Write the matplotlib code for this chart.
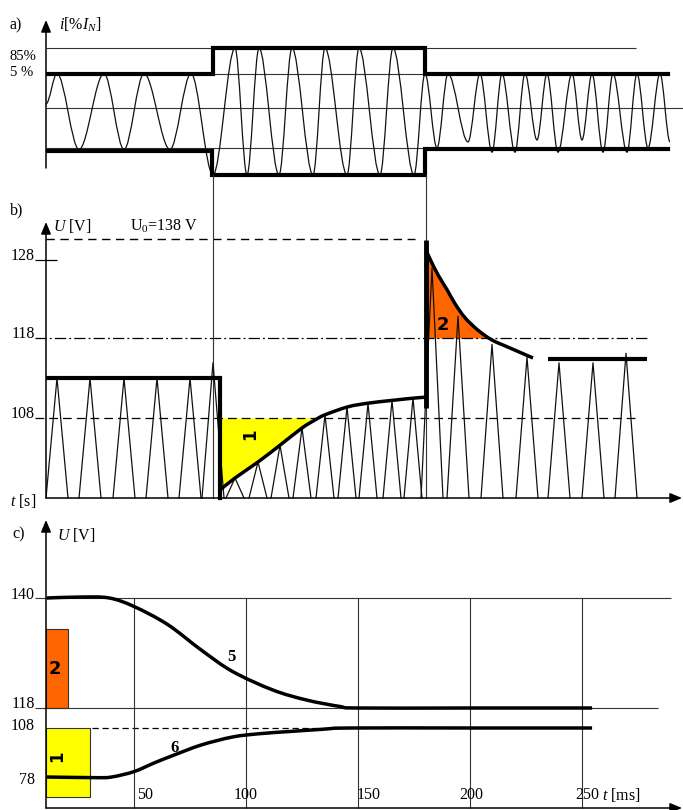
import numpy as np
import matplotlib
matplotlib.use("Agg")
import matplotlib.pyplot as plt
from matplotlib.path import Path
from matplotlib.patches import PathPatch
from matplotlib.transforms import IdentityTransform

plt.rcParams['font.family'] = ['Liberation Serif', 'DejaVu Serif']
plt.rcParams['mathtext.fontset'] = 'custom'
plt.rcParams['mathtext.rm'] = 'Liberation Serif'
plt.rcParams['mathtext.it'] = 'Liberation Serif:italic'
plt.rcParams['mathtext.bf'] = 'Liberation Serif:bold'

# ======================= DATA =======================
# a) current (normalised amplitude, schematic time axis)
a_switch_t = [1.67, 3.80]
a_env_top_t = [0.0, 1.67, 1.67, 3.79, 3.79, 6.22]
a_env_top = [1.0, 1.0, 1.67, 1.67, 1.0, 1.0]
a_env_bot_t = [0.0, 1.66, 1.66, 3.79, 3.79, 6.22]
a_env_bot = [-1.05, -1.05, -1.67, -1.67, -0.98, -0.98]
a_wave_t = [0.00, 0.11, 0.33, 0.58, 0.78, 0.98, 1.24, 1.45, 1.67, 1.89, 2.01,
            2.13, 2.33, 2.46, 2.67, 2.79, 3.01, 3.13, 3.34, 3.47, 3.68, 3.79,
            3.91, 4.02, 4.22, 4.34, 4.46, 4.56, 4.69, 4.79, 4.91, 5.01, 5.12,
            5.26, 5.36, 5.46, 5.57, 5.67, 5.81, 5.91, 6.02, 6.14, 6.24]
a_wave_v = [0.2, 1, -1, 1, -1, 1, -1, 1, -1.67, 1.67, -1.67, 1.67, -1.67, 1.67,
            -1.67, 1.67, -1.67, 1.67, -1.67, 1.67, -1.67, 1.0, -0.96, 1, -0.8,
            1, -1.07, 1, -1.07, 1, -0.75, 1, -1.07, 1, -0.75, 1, -1.07, 1,
            -1.07, 1, -0.96, 1, -0.8]
a_level_85 = 1.67
a_level_5 = [1.0, -0.96]
a_zero = 0.09
a_labels = ['85%', '5 %']

# b) voltage U [V] vs t [s]
b_yticks = [128, 118, 108]
b_U0 = 138
b_base = 98
b_pre_t = [0.0, 1.74, 1.74]
b_pre_u = [113, 113, 98]
b_rise_t = [1.74, 1.89, 2.12, 2.34, 2.56, 2.69, 2.79, 3.02, 3.22, 3.46, 3.69, 3.80]
b_rise_u = [99.0, 100.5, 102.5, 104.6, 106.75, 107.75, 108.4, 109.4, 109.85,
            110.2, 110.5, 110.6]
b_jump_t = [3.80, 3.80]
b_jump_u = [109.25, 137.5]
b_decay_t = [3.80, 3.84, 3.92, 4.01, 4.09, 4.19, 4.32, 4.46, 4.64, 4.87]
b_decay_u = [132.8, 128.5, 126.1, 124.2, 122.4, 120.6, 119.0, 117.75, 116.75, 115.5]
b_final_t = [5.02, 6.01]
b_final_u = 115.4
b_hump_t = [0.11, 0.44, 0.78, 1.11, 1.44, 1.67,
            1.89, 2.12, 2.34, 2.56, 2.79, 3.01, 3.22, 3.46, 3.67,
            3.86, 4.12, 4.46, 4.81, 5.13, 5.47, 5.80]
b_hump_u = [113, 113, 113, 113, 113, 114.9,
            100.5, 102.5, 104.6, 106.75, 108.4, 109.4, 109.85, 110.2, 110.5,
            127.0, 120.8, 117.2, 115.6, 114.9, 114.9, 116.1]

# c) U [V] vs t [ms]
c_xticks = [50, 100, 150, 200, 250]
c_yticks = [140, 118, 108, 78]
c_t5 = [11, 27, 39, 50, 65, 80, 94, 112, 127, 142, 150, 200, 254.5]
c_u5 = [140, 140.2, 140, 138.3, 134.7, 129.6, 125.3, 121.6, 119.6, 118.3, 118, 118, 118]
c_t6 = [11, 33, 40, 50, 59, 68, 80, 94, 106, 120, 134, 146, 200, 254.5]
c_u6 = [78, 77.6, 78, 81.3, 86.6, 91.5, 97.6, 102.5, 104.5, 105.9, 107.2, 108, 108, 108]
c_bar_left = [10.7, 10.7]
c_bar_right = [20.5, 30.4]
c_bar_low = [118, 65.8]
c_bar_high = [133.8, 108]
c_bar_names = ['2', '1']

ORANGE = '#FF6600'
YELLOW = '#FFFF00'
THIN = '#333333'
FS = 11.5

# ======================= LAYOUT =======================
W, H = 683, 810
fig = plt.figure(figsize=(W / 100, H / 100), dpi=100)


def axes_px(l, t, r, b):
    ax = fig.add_axes([l / W, 1 - b / H, (r - l) / W, (b - t) / H])
    ax.set_axis_off()
    return ax


def ftext(x, y, s, **kw):
    kw.setdefault('fontsize', FS)
    fig.text(x / W, 1 - y / H, s, **kw)


def piecewise_y(ax, knots_v, knots_px, top_px, bottom_px):
    kv = np.asarray(knots_v, float)
    kp = -np.asarray(knots_px, float)
    s0 = (kp[1] - kp[0]) / (kv[1] - kv[0])
    s1 = (kp[-1] - kp[-2]) / (kv[-1] - kv[-2])
    kv = np.r_[kv[0] - 1000, kv, kv[-1] + 1000]
    kp = np.r_[kp[0] - 1000 * s0, kp, kp[-1] + 1000 * s1]

    def fwd(v):
        return np.interp(v, kv, kp)

    def inv(h):
        return np.interp(h, kp, kv)
    ax.set_yscale('function', functions=(fwd, inv))
    ax.set_ylim(float(inv(-bottom_px)), float(inv(-top_px)))
    return lambda px: float(inv(-px))


def smooth_wave(ax, ts, vs, k=0.34, **kw):
    verts = [(ts[0], vs[0])]
    codes = [Path.MOVETO]
    for i in range(len(ts) - 1):
        t0, v0, t1, v1 = ts[i], vs[i], ts[i + 1], vs[i + 1]
        d = (t1 - t0) * k
        verts += [(t0 + d, v0), (t1 - d, v1), (t1, v1)]
        codes += [Path.CURVE4] * 3
    ax.add_patch(PathPatch(Path(verts, codes), fill=False, **kw))


def smooth_line(ax, ts, vs, **kw):
    """Smooth curve through the read points (Catmull-Rom in display space)."""
    P = ax.transData.transform(np.column_stack([ts, vs]))
    n = len(P)
    verts = [tuple(P[0])]
    codes = [Path.MOVETO]
    for i in range(n - 1):
        p0 = P[i - 1] if i > 0 else P[i]
        p3 = P[i + 2] if i + 2 < n else P[i + 1]
        c1 = P[i] + (P[i + 1] - p0) / 6.0
        c2 = P[i + 1] - (p3 - P[i]) / 6.0
        verts += [tuple(c1), tuple(c2), tuple(P[i + 1])]
        codes += [Path.CURVE4] * 3
    patch = PathPatch(Path(verts, codes), fill=False, transform=IdentityTransform(),
                      clip_on=False, **kw)
    fig.add_artist(patch)


ARROW = dict(arrowstyle='-|>,head_length=0.6,head_width=0.25', color='black',
             lw=1.1, mutation_scale=12, shrinkA=0, shrinkB=0)

# ---------------- panel a ----------------
axA = axes_px(46, 15, 683, 195)
axA.set_xlim(0, 6.37)
a_px = lambda px: (111.5 - px) / 38.0
axA.set_ylim(a_px(195), a_px(15))
tA = lambda px: (px - 46) / 100.0

axA.hlines(a_level_85, 0, tA(636), color=THIN, lw=0.8)
axA.hlines(a_level_5, 0, tA(668), color=THIN, lw=0.8)
axA.hlines(a_zero, 0, tA(683), color=THIN, lw=0.8, clip_on=False)
smooth_wave(axA, a_wave_t, a_wave_v, color='#111111', lw=0.9, zorder=2)
axA.plot(a_env_top_t, a_env_top, color='black', lw=3, solid_joinstyle='miter', zorder=3)
axA.plot(a_env_bot_t, a_env_bot, color='black', lw=3, solid_joinstyle='miter', zorder=3)
axA.annotate('', xy=(0, a_px(20)), xytext=(0, a_px(168)), arrowprops=ARROW,
             annotation_clip=False)
ftext(10, 25, 'a)', va='center')
ftext(59, 25, r'$i$[%$I_N$]', va='center')
axA.text(tA(10), a_px(59.5), a_labels[0], fontsize=10.5, ha='left', va='baseline',
         clip_on=False)
axA.text(tA(10), a_px(75.8), a_labels[1], fontsize=10.5, ha='left', va='baseline',
         clip_on=False)

# ---------------- panel b ----------------
axB = axes_px(46, 215, 683, 510)
axB.set_xlim(0, 6.37)
uB = piecewise_y(axB, [98, 108, 118, 128, 138], [498, 418, 338, 260, 239], 215, 510)
tB = tA

rt, ru = np.array(b_rise_t), np.array(b_rise_u)
axB.fill_between(rt, ru, 108, where=ru <= 108, interpolate=True, color=YELLOW,
                 lw=0, zorder=1)
dt, du = np.array(b_decay_t), np.array(b_decay_u)
axB.fill_between(dt, du, 118, where=du >= 118, interpolate=True, color=ORANGE,
                 lw=0, zorder=1)

axB.hlines(b_U0, 0, tB(415), color='black', lw=1.0, linestyles=(0, (6, 4)))
axB.hlines(128, tB(35), tB(57), color='black', lw=0.9, clip_on=False)
axB.hlines(118, tB(35), tB(650), color='black', lw=0.9,
           linestyles=(0, (9, 2.5, 1.5, 2.5)), clip_on=False)
axB.hlines(108, tB(35), tB(637), color='black', lw=0.9, linestyles=(0, (7, 4)),
           clip_on=False)

fr = lambda px: (510 - px) / (510 - 215)
for ts in a_switch_t:
    axB.axvline(ts, ymin=fr(498), ymax=fr(175), color=THIN, lw=0.8, clip_on=False,
                zorder=2)

for i, (pt, pu) in enumerate(zip(b_hump_t, b_hump_u)):
    w = 0.09 if 6 <= i <= 14 else 0.11
    axB.plot([pt - w, pt, pt + w], [b_base, pu, b_base], color='#111111', lw=0.9,
             solid_joinstyle='round', zorder=2)

axB.plot(b_pre_t, b_pre_u, color='black', lw=3, solid_joinstyle='miter', zorder=3)
smooth_line(axB, b_rise_t, b_rise_u, color='black', lw=2.5, zorder=3)
axB.plot(b_jump_t, b_jump_u, color='black', lw=3.5, solid_capstyle='butt', zorder=3)
smooth_line(axB, b_decay_t, b_decay_u, color='black', lw=2.5, zorder=3)
axB.hlines(b_final_u, b_final_t[0], b_final_t[1], color='black', lw=3, zorder=3)

axB.annotate('', xy=(0, uB(222)), xytext=(0, b_base), arrowprops=ARROW,
             annotation_clip=False)
axB.annotate('', xy=(tB(682), b_base), xytext=(0, b_base), arrowprops=ARROW,
             annotation_clip=False)

for v in b_yticks:
    axB.text(tB(35), v, str(v), fontsize=FS, ha='right', va='baseline', clip_on=False)
ftext(10, 210, 'b)', va='center')
ftext(53, 226, r'$U$ [V]', va='center')
ftext(130, 226, r'U$_0$=138 V', va='center')
ftext(10, 501, r'$t$ [s]', va='center')
axB.text(tB(250), uB(434), '1', fontsize=12, fontweight='bold', family='DejaVu Sans',
         rotation=90, ha='center', va='center', zorder=4)
axB.text(tB(443), uB(325), '2', fontsize=13, fontweight='bold', family='DejaVu Sans',
         ha='center', va='center', zorder=4)

# ---------------- panel c ----------------
axC = axes_px(46, 515, 683, 810)
tC = lambda px: 50 + (px - 134) / 2.24
axC.set_xlim(tC(46), tC(683))
uC = piecewise_y(axC, [78, 108, 118, 140], [777, 728, 708, 598], 515, 810)

axC.hlines(140, tC(35), tC(671), color=THIN, lw=0.8, clip_on=False)
axC.hlines(118, tC(35), tC(658), color=THIN, lw=0.8, clip_on=False)
axC.hlines(108, tC(92), tC(340), color='black', lw=0.9, linestyles=(0, (5, 3)))
axC.vlines(c_xticks, uC(808), 140, color=THIN, lw=0.8)

for l, r, lo, hi, col in zip(c_bar_left, c_bar_right, c_bar_low, c_bar_high,
                             [ORANGE, YELLOW]):
    axC.bar(l, hi - lo, width=r - l, bottom=lo, align='edge', color=col,
            edgecolor='#333333', lw=0.8, zorder=1)
axC.text(14.7, uC(669), c_bar_names[0], fontsize=13, fontweight='bold',
         family='DejaVu Sans', ha='center', va='center', zorder=4)
axC.text(15.6, uC(756), c_bar_names[1], fontsize=12, fontweight='bold',
         family='DejaVu Sans', rotation=90, ha='center', va='center', zorder=4)

smooth_line(axC, c_t5, c_u5, color='black', lw=2.5, zorder=3)
smooth_line(axC, c_t6, c_u6, color='black', lw=2.5, zorder=3)
axC.text(93.3, uC(657), '5', fontsize=12, fontweight='bold', ha='center', va='center')
axC.text(68.3, uC(748), '6', fontsize=12, fontweight='bold', ha='center', va='center')

axC.annotate('', xy=(tC(46), uC(520)), xytext=(tC(46), uC(808)), arrowprops=ARROW,
             annotation_clip=False)
axC.annotate('', xy=(tC(682), uC(808)), xytext=(tC(46), uC(808)), arrowprops=ARROW,
             annotation_clip=False)

label_px = {140: 599, 118: 708, 108: 730, 78: 784}
for v in c_yticks:
    axC.text(tC(35), uC(label_px[v]), str(v), fontsize=FS, ha='right',
             va='baseline', clip_on=False)
tick_dx = [3, -12, -1, -11, -7]
for v, dx in zip(c_xticks, tick_dx):
    axC.text(v + dx / 2.24, uC(795), str(v), fontsize=FS, ha='left', va='center')
ftext(602, 795, r'$t$ [ms]', va='center')
ftext(12, 534, 'c)', va='center')
ftext(57, 535, r'$U$ [V]', va='center')

fig.savefig('out.png', dpi=100)
